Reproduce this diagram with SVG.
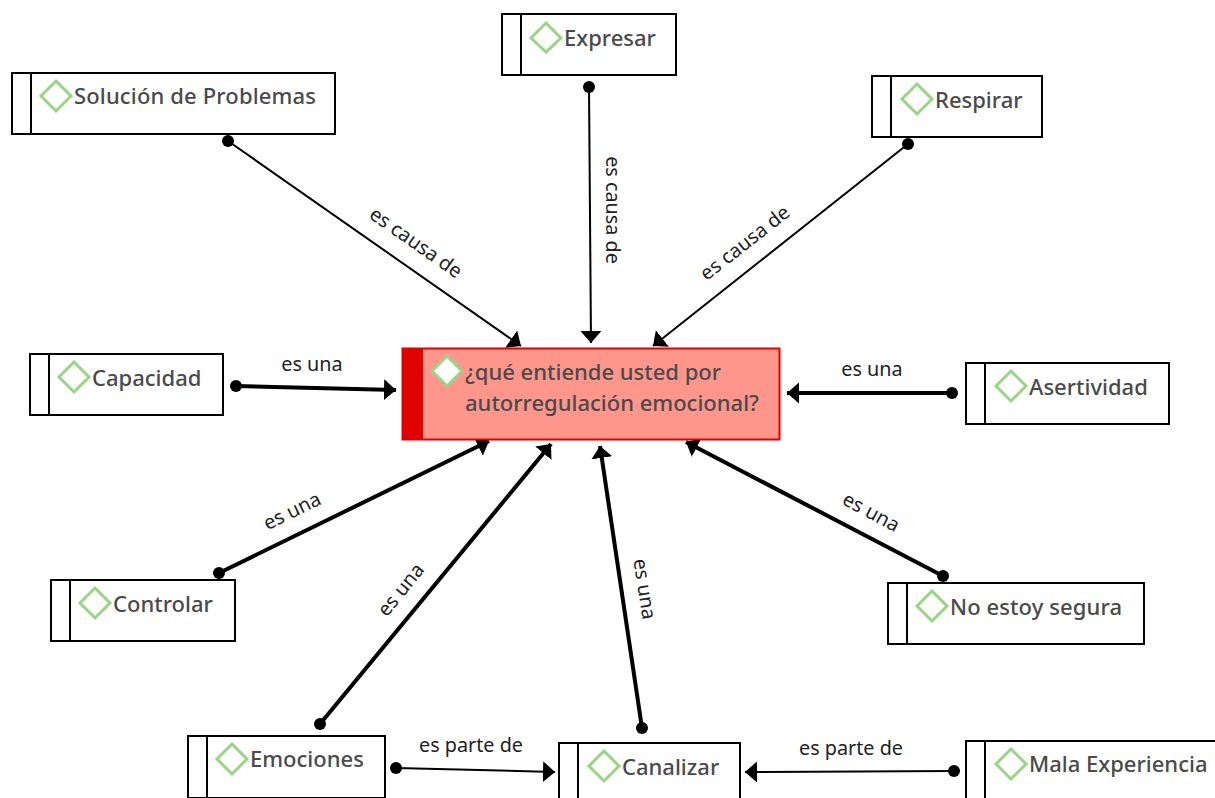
<svg xmlns="http://www.w3.org/2000/svg" width="1215" height="798" viewBox="0 0 1215 798">
<style>
.box{fill:#fff;stroke:#000;stroke-width:2}
.d{fill:#fff;stroke:#9ad486;stroke-width:3}
.t{font-family:"Noto Sans","Open Sans",sans-serif;font-size:22px;font-weight:500;fill:#4a4a4a}
.l{font-family:"Noto Sans","Open Sans",sans-serif;font-size:19.8px;fill:#222;text-anchor:middle}
.c{stroke:#000;fill:none}
.dot{fill:#000}
</style>
<defs>
<marker id="a" markerUnits="userSpaceOnUse" markerWidth="14" markerHeight="22" refX="12" refY="11" orient="auto"><path d="M0 0.500L12 11L0 21.500Z" fill="#000"/></marker>
</defs>
<rect width="1215" height="798" fill="#fff"/>
<g id="connectors">
<path class="c" stroke-width="2" marker-end="url(#a)" d="M228 141L521 346"/><circle class="dot" cx="228" cy="141" r="6"/>
<path class="c" stroke-width="2" marker-end="url(#a)" d="M589 87L591 343"/><circle class="dot" cx="589" cy="87" r="6"/>
<path class="c" stroke-width="2" marker-end="url(#a)" d="M908 144L653 346"/><circle class="dot" cx="908" cy="144" r="6"/>
<path class="c" stroke-width="4" marker-end="url(#a)" d="M236 386L396 390"/><circle class="dot" cx="236" cy="386" r="6"/>
<path class="c" stroke-width="4" marker-end="url(#a)" d="M952 393L787 393"/><circle class="dot" cx="952" cy="393" r="6"/>
<path class="c" stroke-width="4" marker-end="url(#a)" d="M219 573L489 441"/><circle class="dot" cx="219" cy="573" r="6"/>
<path class="c" stroke-width="4" marker-end="url(#a)" d="M320 724L551 444"/><circle class="dot" cx="320" cy="724" r="6"/>
<path class="c" stroke-width="4" marker-end="url(#a)" d="M642 728L600 446"/><circle class="dot" cx="642" cy="728" r="6"/>
<path class="c" stroke-width="4" marker-end="url(#a)" d="M943 576L686 442"/><circle class="dot" cx="943" cy="576" r="6"/>
<path class="c" stroke-width="2" marker-end="url(#a)" d="M396 768L555 772"/><circle class="dot" cx="396" cy="768" r="6"/>
<path class="c" stroke-width="2" marker-end="url(#a)" d="M954 771L745 772"/><circle class="dot" cx="954" cy="771" r="6"/>
<text class="l" transform="translate(412 248) rotate(35)">es causa de</text>
<text class="l" transform="translate(606 210) rotate(90)">es causa de</text>
<text class="l" transform="translate(749 248) rotate(-38)">es causa de</text>
<text class="l" x="312" y="371">es una</text>
<text class="l" x="872" y="376">es una</text>
<text class="l" transform="translate(295 517) rotate(-26)">es una</text>
<text class="l" transform="translate(406 594) rotate(-51)">es una</text>
<text class="l" transform="translate(638 590) rotate(81)">es una</text>
<text class="l" transform="translate(868 518) rotate(28)">es una</text>
<text class="l" x="471" y="752">es parte de</text>
<text class="l" x="851" y="755">es parte de</text>
</g>
<g id="n-center">
<rect x="402.500" y="348.500" width="377" height="91" fill="#ff968c" stroke="#e00000" stroke-width="2"/>
<rect x="402" y="348" width="21" height="92" fill="#e00000"/>
<path class="d" d="M447 356L462 371L447 386L432 371Z"/>
<text class="t" x="465" y="380">¿qué entiende usted por</text>
<text class="t" x="465" y="411">autorregulación emocional?</text>
</g>
<g id="n-solucion"><rect class="box" x="12" y="73" width="323" height="61"/><path class="box" d="M31 73V134"/><path class="d" d="M56 81L71 96L56 111L41 96Z"/><text class="t" x="74" y="104" textLength="242">Solución de Problemas</text></g>
<g id="n-expresar"><rect class="box" x="502" y="14" width="174" height="61"/><path class="box" d="M521 14V75"/><path class="d" d="M546 23L561 38L546 52L531 38Z"/><text class="t" x="564" y="46">Expresar</text></g>
<g id="n-respirar"><rect class="box" x="872" y="76" width="170" height="61"/><path class="box" d="M891 76V137"/><path class="d" d="M917 84L932 99L917 114L902 99Z"/><text class="t" x="935" y="108">Respirar</text></g>
<g id="n-capacidad"><rect class="box" x="30" y="354" width="193" height="61"/><path class="box" d="M49 354V415"/><path class="d" d="M74 362L89 377L74 392L59 377Z"/><text class="t" x="92" y="386">Capacidad</text></g>
<g id="n-asertividad"><rect class="box" x="966" y="363" width="203" height="61"/><path class="box" d="M985 363V424"/><path class="d" d="M1011 371L1026 386L1011 401L996 386Z"/><text class="t" x="1029" y="395">Asertividad</text></g>
<g id="n-controlar"><rect class="box" x="51" y="580" width="184" height="61"/><path class="box" d="M70 580V641"/><path class="d" d="M95 588L110 603L95 618L80 603Z"/><text class="t" x="113" y="612">Controlar</text></g>
<g id="n-segura"><rect class="box" x="888" y="583" width="256" height="61"/><path class="box" d="M907 583V644"/><path class="d" d="M932 591L947 606L932 621L917 606Z"/><text class="t" x="950" y="615" textLength="172">No estoy segura</text></g>
<g id="n-emociones"><rect class="box" x="188" y="736" width="197" height="62"/><path class="box" d="M207 736V798"/><path class="d" d="M232 744L247 759L232 774L217 759Z"/><text class="t" x="250" y="767">Emociones</text></g>
<g id="n-canalizar"><rect class="box" x="559" y="743" width="181" height="62"/><path class="box" d="M578 743V805"/><path class="d" d="M604 751L619 766L604 781L589 766Z"/><text class="t" x="622" y="775">Canalizar</text></g>
<g id="n-mala"><rect class="box" x="966" y="741" width="260" height="62"/><path class="box" d="M985 741V803"/><path class="d" d="M1011 749L1026 764L1011 779L996 764Z"/><text class="t" x="1029" y="772">Mala Experiencia</text></g>
</svg>
